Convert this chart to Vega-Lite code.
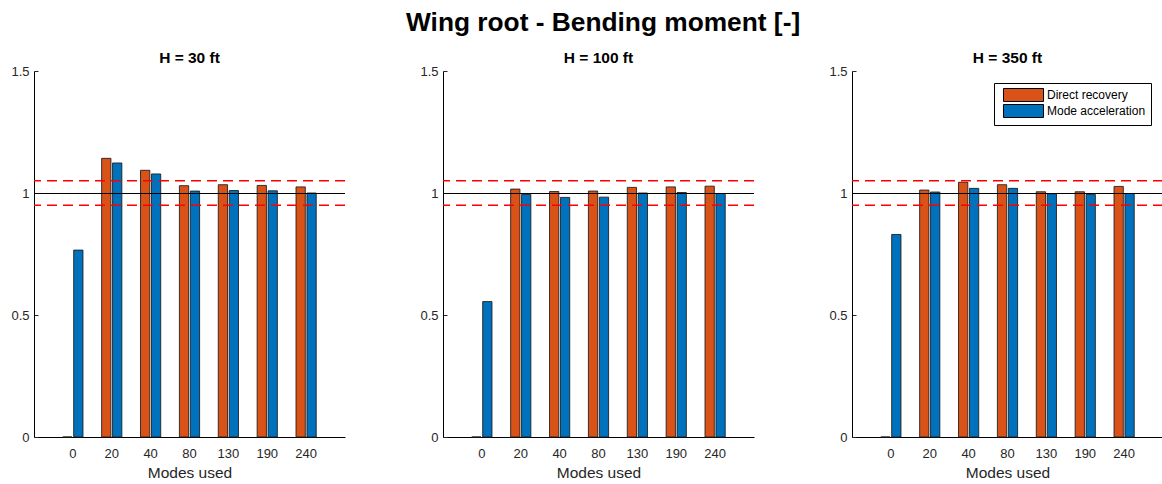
{
  "$schema": "https://vega.github.io/schema/vega-lite/v6.json",
  "background": "white",
  "padding": {"left": 10, "top": 10, "right": 0, "bottom": 0},
  "title": {
    "text": "Wing root - Bending moment [-]",
    "font": "Liberation Sans",
    "fontSize": 26.3,
    "fontWeight": "bold",
    "color": "#000000",
    "anchor": "start",
    "frame": "group",
    "dx": 372,
    "offset": 14
  },
  "config": {
    "view": {"stroke": null},
    "font": "Liberation Sans",
    "axis": {
      "grid": false,
      "domainColor": "#000000",
      "tickColor": "#262626",
      "labelColor": "#262626",
      "titleColor": "#262626",
      "labelFont": "Liberation Sans",
      "titleFont": "Liberation Sans",
      "labelFontSize": 13,
      "titleFontSize": 15.5,
      "titleFontWeight": "normal"
    },
    "title": {"font": "Liberation Sans", "fontSize": 15.5, "fontWeight": "bold", "color": "#000000", "offset": -1},
    "concat": {"spacing": 98},
    "legend": {"labelFont": "Liberation Sans"}
  },
  "bounds": "flush",
  "resolve": {"legend": {"color": "independent"}, "scale": {"color": "independent"}},
  "datasets": {
    "bm": [
      {"H": "H = 30 ft", "modes": "0", "method": "Direct recovery", "value": 0},
      {"H": "H = 30 ft", "modes": "0", "method": "Mode acceleration", "value": 0.766},
      {"H": "H = 30 ft", "modes": "20", "method": "Direct recovery", "value": 1.142},
      {"H": "H = 30 ft", "modes": "20", "method": "Mode acceleration", "value": 1.123},
      {"H": "H = 30 ft", "modes": "40", "method": "Direct recovery", "value": 1.093},
      {"H": "H = 30 ft", "modes": "40", "method": "Mode acceleration", "value": 1.078},
      {"H": "H = 30 ft", "modes": "80", "method": "Direct recovery", "value": 1.030},
      {"H": "H = 30 ft", "modes": "80", "method": "Mode acceleration", "value": 1.008},
      {"H": "H = 30 ft", "modes": "130", "method": "Direct recovery", "value": 1.034},
      {"H": "H = 30 ft", "modes": "130", "method": "Mode acceleration", "value": 1.010},
      {"H": "H = 30 ft", "modes": "190", "method": "Direct recovery", "value": 1.031},
      {"H": "H = 30 ft", "modes": "190", "method": "Mode acceleration", "value": 1.009},
      {"H": "H = 30 ft", "modes": "240", "method": "Direct recovery", "value": 1.025},
      {"H": "H = 30 ft", "modes": "240", "method": "Mode acceleration", "value": 1.000},
      {"H": "H = 100 ft", "modes": "0", "method": "Direct recovery", "value": 0},
      {"H": "H = 100 ft", "modes": "0", "method": "Mode acceleration", "value": 0.555},
      {"H": "H = 100 ft", "modes": "20", "method": "Direct recovery", "value": 1.016},
      {"H": "H = 100 ft", "modes": "20", "method": "Mode acceleration", "value": 0.994},
      {"H": "H = 100 ft", "modes": "40", "method": "Direct recovery", "value": 1.006},
      {"H": "H = 100 ft", "modes": "40", "method": "Mode acceleration", "value": 0.982},
      {"H": "H = 100 ft", "modes": "80", "method": "Direct recovery", "value": 1.008},
      {"H": "H = 100 ft", "modes": "80", "method": "Mode acceleration", "value": 0.983},
      {"H": "H = 100 ft", "modes": "130", "method": "Direct recovery", "value": 1.023},
      {"H": "H = 100 ft", "modes": "130", "method": "Mode acceleration", "value": 1.000},
      {"H": "H = 100 ft", "modes": "190", "method": "Direct recovery", "value": 1.025},
      {"H": "H = 100 ft", "modes": "190", "method": "Mode acceleration", "value": 1.002},
      {"H": "H = 100 ft", "modes": "240", "method": "Direct recovery", "value": 1.028},
      {"H": "H = 100 ft", "modes": "240", "method": "Mode acceleration", "value": 0.998},
      {"H": "H = 350 ft", "modes": "0", "method": "Direct recovery", "value": 0},
      {"H": "H = 350 ft", "modes": "0", "method": "Mode acceleration", "value": 0.830},
      {"H": "H = 350 ft", "modes": "20", "method": "Direct recovery", "value": 1.012},
      {"H": "H = 350 ft", "modes": "20", "method": "Mode acceleration", "value": 1.004},
      {"H": "H = 350 ft", "modes": "40", "method": "Direct recovery", "value": 1.044},
      {"H": "H = 350 ft", "modes": "40", "method": "Mode acceleration", "value": 1.019},
      {"H": "H = 350 ft", "modes": "80", "method": "Direct recovery", "value": 1.034},
      {"H": "H = 350 ft", "modes": "80", "method": "Mode acceleration", "value": 1.019},
      {"H": "H = 350 ft", "modes": "130", "method": "Direct recovery", "value": 1.005},
      {"H": "H = 350 ft", "modes": "130", "method": "Mode acceleration", "value": 0.997},
      {"H": "H = 350 ft", "modes": "190", "method": "Direct recovery", "value": 1.005},
      {"H": "H = 350 ft", "modes": "190", "method": "Mode acceleration", "value": 0.994},
      {"H": "H = 350 ft", "modes": "240", "method": "Direct recovery", "value": 1.027},
      {"H": "H = 350 ft", "modes": "240", "method": "Mode acceleration", "value": 0.998}
    ],
    "tolerance": [{"level": 0.95}, {"level": 1.05}],
    "reference": [{"level": 1}]
  },
  "hconcat": [
    {
      "title": "H = 30 ft",
      "width": 311,
      "height": 366,
      "layer": [
        {
          "data": {"name": "bm"},
          "transform": [{"filter": "datum.H === 'H = 30 ft'"}],
          "mark": {"type": "bar", "stroke": "#1a1a1a", "strokeWidth": 1, "strokeOpacity": 0.85},
          "encoding": {
            "x": {"field": "modes", "type": "nominal", "sort": ["0", "20", "40", "80", "130", "190", "240"],
                  "scale": {"paddingInner": 0.48, "paddingOuter": 0.74},
                  "axis": {"title": "Modes used", "labelAngle": 0, "ticks": false, "labelPadding": 10, "titlePadding": 5}},
            "xOffset": {"field": "method", "type": "nominal", "sort": ["Direct recovery", "Mode acceleration"], "scale": {"paddingInner": 0.15}},
            "y": {"field": "value", "type": "quantitative", "scale": {"domain": [0, 1.5], "nice": false},
                  "axis": {"title": null, "values": [0, 0.5, 1, 1.5], "format": "~g", "tickSize": -4, "labelPadding": 9}},
            "color": {"field": "method", "type": "nominal",
                      "scale": {"domain": ["Direct recovery", "Mode acceleration"], "range": ["#D95319", "#0072BD"]},
                      "legend": null}
          }
        },
        {
          "data": {"name": "tolerance"},
          "mark": {"type": "rule", "color": "#FF0000", "strokeWidth": 1.5, "strokeDash": [10, 6]},
          "encoding": {"y": {"field": "level", "type": "quantitative"}}
        },
        {
          "data": {"name": "reference"},
          "mark": {"type": "rule", "color": "#000000", "strokeWidth": 1, "yOffset": 0.5},
          "encoding": {"y": {"field": "level", "type": "quantitative"}}
        }
      ]
    },
    {
      "title": "H = 100 ft",
      "width": 311,
      "height": 366,
      "layer": [
        {
          "data": {"name": "bm"},
          "transform": [{"filter": "datum.H === 'H = 100 ft'"}],
          "mark": {"type": "bar", "stroke": "#1a1a1a", "strokeWidth": 1, "strokeOpacity": 0.85},
          "encoding": {
            "x": {"field": "modes", "type": "nominal", "sort": ["0", "20", "40", "80", "130", "190", "240"],
                  "scale": {"paddingInner": 0.48, "paddingOuter": 0.74},
                  "axis": {"title": "Modes used", "labelAngle": 0, "ticks": false, "labelPadding": 10, "titlePadding": 5}},
            "xOffset": {"field": "method", "type": "nominal", "sort": ["Direct recovery", "Mode acceleration"], "scale": {"paddingInner": 0.15}},
            "y": {"field": "value", "type": "quantitative", "scale": {"domain": [0, 1.5], "nice": false},
                  "axis": {"title": null, "values": [0, 0.5, 1, 1.5], "format": "~g", "tickSize": -4, "labelPadding": 9}},
            "color": {"field": "method", "type": "nominal",
                      "scale": {"domain": ["Direct recovery", "Mode acceleration"], "range": ["#D95319", "#0072BD"]},
                      "legend": null}
          }
        },
        {
          "data": {"name": "tolerance"},
          "mark": {"type": "rule", "color": "#FF0000", "strokeWidth": 1.5, "strokeDash": [10, 6]},
          "encoding": {"y": {"field": "level", "type": "quantitative"}}
        },
        {
          "data": {"name": "reference"},
          "mark": {"type": "rule", "color": "#000000", "strokeWidth": 1, "yOffset": 0.5},
          "encoding": {"y": {"field": "level", "type": "quantitative"}}
        }
      ]
    },
    {
      "title": "H = 350 ft",
      "width": 311,
      "height": 366,
      "layer": [
        {
          "data": {"name": "bm"},
          "transform": [{"filter": "datum.H === 'H = 350 ft'"}],
          "mark": {"type": "bar", "stroke": "#1a1a1a", "strokeWidth": 1, "strokeOpacity": 0.85},
          "encoding": {
            "x": {"field": "modes", "type": "nominal", "sort": ["0", "20", "40", "80", "130", "190", "240"],
                  "scale": {"paddingInner": 0.48, "paddingOuter": 0.74},
                  "axis": {"title": "Modes used", "labelAngle": 0, "ticks": false, "labelPadding": 10, "titlePadding": 5}},
            "xOffset": {"field": "method", "type": "nominal", "sort": ["Direct recovery", "Mode acceleration"], "scale": {"paddingInner": 0.15}},
            "y": {"field": "value", "type": "quantitative", "scale": {"domain": [0, 1.5], "nice": false},
                  "axis": {"title": null, "values": [0, 0.5, 1, 1.5], "format": "~g", "tickSize": -4, "labelPadding": 9}},
            "color": {"field": "method", "type": "nominal",
                      "scale": {"domain": ["Direct recovery", "Mode acceleration"], "range": ["#D95319", "#0072BD"]},
                      "legend": {"title": null, "orient": "none", "legendX": 142, "legendY": 12,
                                 "strokeColor": "#000000", "fillColor": "white", "padding": 5,
                                 "symbolType": "M-3.08,-1H3.08V1H-3.08Z", "symbolSize": 169, "symbolOffset": 17.5,
                                 "symbolStrokeColor": "#000000", "symbolStrokeWidth": 1, "symbolOpacity": 1,
                                 "labelFontSize": 12, "labelColor": "#000000", "rowPadding": -2, "labelOffset": 16.5}}
          }
        },
        {
          "data": {"name": "tolerance"},
          "mark": {"type": "rule", "color": "#FF0000", "strokeWidth": 1.5, "strokeDash": [10, 6]},
          "encoding": {"y": {"field": "level", "type": "quantitative"}}
        },
        {
          "data": {"name": "reference"},
          "mark": {"type": "rule", "color": "#000000", "strokeWidth": 1, "yOffset": 0.5},
          "encoding": {"y": {"field": "level", "type": "quantitative"}}
        }
      ]
    }
  ]
}
